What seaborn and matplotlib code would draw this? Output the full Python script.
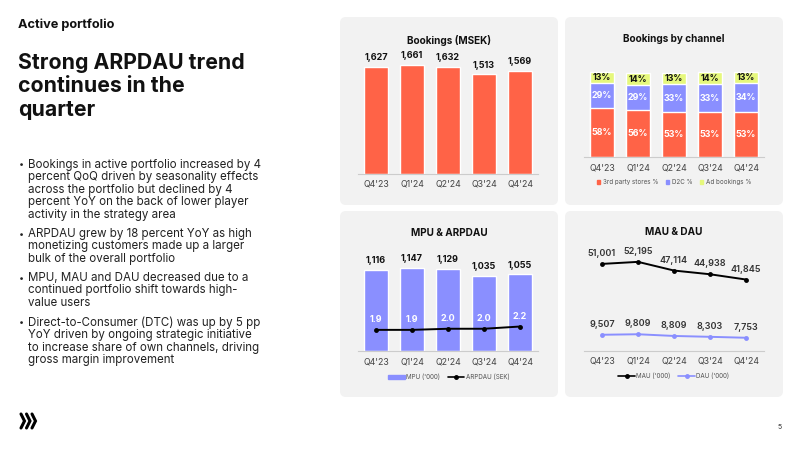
import numpy as np
import pandas as pd
import matplotlib
matplotlib.use("Agg")
import matplotlib.pyplot as plt
import seaborn as sns
from matplotlib.patches import FancyBboxPatch, Patch
from matplotlib.lines import Line2D
from matplotlib.transforms import IdentityTransform

# ---------------- data ----------------
quarters = ["Q4'23", "Q1'24", "Q2'24", "Q3'24", "Q4'24"]
bookings = [1627, 1661, 1632, 1513, 1569]
third_party = [58, 56, 53, 53, 53]
d2c = [29, 29, 33, 33, 34]
ad_bookings = [13, 14, 13, 14, 13]
mpu = [1116, 1147, 1129, 1035, 1055]
arpdau = [1.9, 1.9, 2.0, 2.0, 2.2]
mau = [51001, 52195, 47114, 44938, 41845]
dau = [9507, 9809, 8809, 8303, 7753]

RED = "#FF6347"
BLUE = "#8A8FFF"
YELLOW = "#E6F87C"
PANEL = "#F2F2F2"
TXT = "#111111"

sns.set_style("white")
plt.rcParams["font.family"] = ["Inter", "DejaVu Sans"]

W, H = 800, 450
fig = plt.figure(figsize=(8, 4.5), dpi=100)
fig.patch.set_facecolor("white")


def fx(px):
    return px / W


def fy(py):
    return 1 - py / H


def add_axes(x0, y_top, x1, y_base):
    ax = fig.add_axes([fx(x0), fy(y_base), (x1 - x0) / W, (y_base - y_top) / H])
    ax.set_facecolor("none")
    return ax


def panel(x0, y0, x1, y1):
    p = FancyBboxPatch((x0, H - y1), x1 - x0, y1 - y0,
                       boxstyle="round,pad=0,rounding_size=6",
                       transform=IdentityTransform(), facecolor=PANEL,
                       edgecolor="none", zorder=-5)
    fig.add_artist(p)


def style_axis(ax, pad=4):
    for s in ["top", "right", "left"]:
        ax.spines[s].set_visible(False)
    ax.spines["bottom"].set_color("#CCCCCC")
    ax.spines["bottom"].set_linewidth(0.8)
    ax.set_yticks([])
    ax.set_xticks(range(5))
    ax.set_xticklabels(quarters, fontsize=6.3, color="#444444")
    ax.tick_params(axis="x", length=0, pad=pad)
    ax.set_xlabel("")
    ax.set_ylabel("")
    ax.set_xlim(-0.5, 4.5)


# ---------------- panels ----------------
panel(340, 17, 558, 205)
panel(565, 17, 783, 205)
panel(340, 211, 558, 397)
panel(565, 211, 783, 397)

# ---------------- left text ----------------
fig.text(fx(18), fy(25), "Active portfolio", fontsize=9.2, fontweight="bold",
         color=TXT, va="center", ha="left")
for i, line in enumerate(["Strong ARPDAU trend", "continues in the", "quarter"]):
    fig.text(fx(18), fy(63 + i * 23.5), line, fontsize=15.3, fontweight="bold",
             color=TXT, va="center", ha="left")

bullets = [
    (165, ["Bookings in active portfolio increased by 4",
           "percent QoQ driven by seasonality effects",
           "across the portfolio but declined by 4",
           "percent YoY on the back of lower player",
           "activity in the strategy area"]),
    (234, ["ARPDAU grew by 18 percent YoY as high",
           "monetizing customers made up a larger",
           "bulk of the overall portfolio"]),
    (278, ["MPU, MAU and DAU decreased due to a",
           "continued portfolio shift towards high-",
           "value users"]),
    (323, ["Direct-to-Consumer (DTC) was up by 5 pp",
           "YoY driven by ongoing strategic initiative",
           "to increase share of own channels, driving",
           "gross margin improvement"]),
]
for y0, lines in bullets:
    fig.text(fx(18.5), fy(y0), "•", fontsize=6.5, color="#222222", va="center", ha="left")
    for j, line in enumerate(lines):
        fig.text(fx(28), fy(y0 + j * 12.4), line, fontsize=8.3, color="#222222",
                 va="center", ha="left")

# logo
for k in range(3):
    x = 21 + k * 5.5
    fig.add_artist(Line2D([fx(x), fx(x + 3.5), fx(x)], [fy(414), fy(421), fy(428)],
                          transform=fig.transFigure, color="black", lw=2.2,
                          solid_joinstyle="miter"))
fig.text(fx(782), fy(427), "5", fontsize=5, color="#333333", ha="right", va="center")

# ---------------- Bookings (MSEK) ----------------
ax1 = add_axes(358, 49, 538, 174)
df_b = pd.DataFrame({"q": quarters, "v": bookings})
sns.barplot(data=df_b, x="q", y="v", color=RED, saturation=1, width=0.667, ax=ax1)
ax1.set_ylim(0, 1900)
style_axis(ax1, pad=4)
for i, v in enumerate(bookings):
    ax1.annotate(f"{v:,}", (i, v), xytext=(0, 6.5), textcoords="offset points",
                 ha="center", va="center", fontsize=6.5, fontweight="bold", color=TXT)
fig.text(fx(449), fy(40), "Bookings (MSEK)", fontsize=7.2, fontweight="bold",
         color=TXT, ha="center", va="center")

# ---------------- Bookings by channel ----------------
ax2 = add_axes(584, 68, 764, 157)
tot = [a + b + c for a, b, c in zip(third_party, d2c, ad_bookings)]
mid = [a + b for a, b in zip(third_party, d2c)]
sns.barplot(x=quarters, y=tot, color=YELLOW, saturation=1, width=0.667, ax=ax2)
sns.barplot(x=quarters, y=mid, color=BLUE, saturation=1, width=0.667, ax=ax2)
sns.barplot(x=quarters, y=third_party, color=RED, saturation=1, width=0.667, ax=ax2)
ax2.set_ylim(0, 105)
style_axis(ax2, pad=5)
for i in range(5):
    ax2.text(i, third_party[i] / 2, f"{third_party[i]}%", ha="center", va="center",
             fontsize=6.4, fontweight="bold", color="white")
    ax2.text(i, third_party[i] + d2c[i] / 2, f"{d2c[i]}%", ha="center", va="center",
             fontsize=6.4, fontweight="bold", color="white")
    ax2.text(i, mid[i] + ad_bookings[i] / 2, f"{ad_bookings[i]}%", ha="center",
             va="center", fontsize=6.4, fontweight="bold", color=TXT)
fig.text(fx(674), fy(39), "Bookings by channel", fontsize=7.2, fontweight="bold",
         color=TXT, ha="center", va="center")
h2 = [Patch(color=RED), Patch(color=BLUE), Patch(color=YELLOW)]
ax2.legend(h2, ["3rd party stores %", "D2C %", "Ad bookings %"], loc="center",
           bbox_to_anchor=(fx(674), fy(182)), bbox_transform=fig.transFigure,
           ncol=3, frameon=False, fontsize=4.5, handlelength=0.55, handleheight=0.55,
           handletextpad=0.4, columnspacing=1.2, labelcolor="#555555")

# ---------------- MPU & ARPDAU ----------------
ax3 = add_axes(358, 242, 538, 351)
sns.barplot(x=quarters, y=mpu, color=BLUE, saturation=1, width=0.667, ax=ax3)
ax3.set_ylim(0, 1500)
style_axis(ax3, pad=5)
for i, v in enumerate(mpu):
    ax3.annotate(f"{v:,}", (i, v), xytext=(0, 6.5), textcoords="offset points",
                 ha="center", va="center", fontsize=6.5, fontweight="bold", color=TXT)
ax3b = ax3.twinx()
ax3b.set_facecolor("none")
sns.lineplot(x=np.arange(5), y=arpdau, color="black", marker="o", markersize=3.5,
             markeredgewidth=0, linewidth=1.4, ax=ax3b)
ax3b.set_ylim(0, 9.8)
ax3b.set_yticks([])
ax3b.set_ylabel("")
for s in ["top", "right", "left", "bottom"]:
    ax3b.spines[s].set_visible(False)
ax3b.set_xlim(-0.5, 4.5)
for i, v in enumerate(arpdau):
    ax3b.annotate(f"{v:.1f}", (i, v), xytext=(0, 7.5), textcoords="offset points",
                  ha="center", va="center", fontsize=6.5, fontweight="bold", color="white")
fig.text(fx(449), fy(233), "MPU & ARPDAU", fontsize=7.2, fontweight="bold",
         color=TXT, ha="center", va="center")
h3 = [Patch(color=BLUE), Line2D([], [], color="black", marker="o", markersize=2.5, lw=1.2)]
ax3b.legend(h3, ["MPU ('000)", "ARPDAU (SEK)"], loc="center",
            bbox_to_anchor=(fx(449), fy(377)), bbox_transform=fig.transFigure,
            ncol=2, frameon=False, fontsize=4.5, handlelength=2.6, handleheight=0.5,
            handletextpad=0.3, columnspacing=1.2, labelcolor="#555555")

# ---------------- MAU & DAU ----------------
ax4 = add_axes(584, 240, 764, 351)
sns.lineplot(x=np.arange(5), y=mau, color="black", marker="o", markersize=3.5,
             markeredgewidth=0, linewidth=1.4, ax=ax4)
sns.lineplot(x=np.arange(5), y=dau, color=BLUE, marker="o", markersize=3.5,
             markeredgewidth=0, linewidth=1.4, ax=ax4)
ax4.set_ylim(0, 65000)
style_axis(ax4, pad=4)
for i in range(5):
    ax4.annotate(f"{mau[i]:,}", (i, mau[i]), xytext=(0, 7.5), textcoords="offset points",
                 ha="center", va="center", fontsize=6.5, fontweight="semibold", color="#333333")
    ax4.annotate(f"{dau[i]:,}", (i, dau[i]), xytext=(0, 7.5), textcoords="offset points",
                 ha="center", va="center", fontsize=6.5, fontweight="semibold", color="#333333")
fig.text(fx(674), fy(232), "MAU & DAU", fontsize=7.2, fontweight="bold",
         color=TXT, ha="center", va="center")
h4 = [Line2D([], [], color="black", marker="o", markersize=2.5, lw=1.2),
      Line2D([], [], color=BLUE, marker="o", markersize=2.5, lw=1.2)]
ax4.legend(h4, ["MAU ('000)", "DAU ('000)"], loc="center",
           bbox_to_anchor=(fx(674), fy(376)), bbox_transform=fig.transFigure,
           ncol=2, frameon=False, fontsize=4.5, handlelength=2.6,
           handletextpad=0.3, columnspacing=1.2, labelcolor="#555555")

fig.savefig("out.png", dpi=100)
